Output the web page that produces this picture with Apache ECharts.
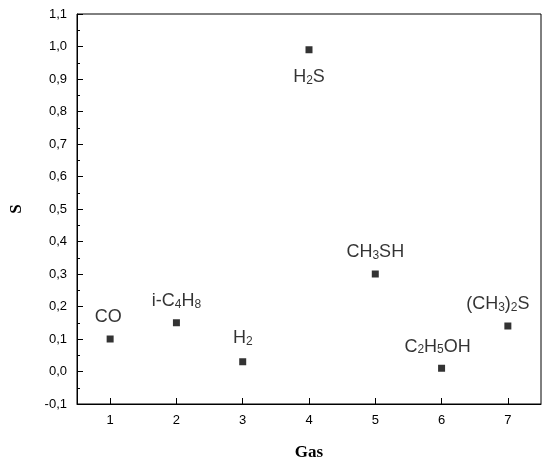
<!DOCTYPE html>
<html lang="en">
<head>
  <meta charset="UTF-8">
  <title>S vs Gas</title>
  <style>
    html, body { margin: 0; padding: 0; width: 100%; height: 100%; background: #fff; }
    .main { width: 550px; height: 468px; }
  </style>
</head>
<body>
<div class="main"></div>
<script src="https://cdn.jsdelivr.net/npm/echarts@6/dist/echarts.min.js"></script>
<script>
var gasIndex = [1, 2, 3, 4, 5, 6, 7];
var sValues = [0.10, 0.15, 0.03, 0.99, 0.30, 0.01, 0.14];
// rich-text labels, {s|..} is a subscript
var gasLabels = ['{m|CO}', '{m|i-C}{s|4}{m|H}{s|8}', '{m|H}{s|2}', '{m|H}{s|2}{m|S}',
  '{m|CH}{s|3}{m|SH}', '{m|C}{s|2}{m|H}{s|5}{m|OH}', '{m|(CH}{s|3}{m|)}{s|2}{m|S}'];
var labelOffsets = [[-2, -4], [0, -4], [0, -6], [0, 4], [0, -4], [-4, -4], [-10, -4]];

var chart = echarts.init(document.querySelector('.main'));

function fmt(v) { return v.toFixed(1).replace('.', ','); }

chart.setOption({
  animation: false,
  grid: { left: 72, right: 9, top: 14, bottom: 64, show: true, borderColor: '#000', borderWidth: 1 },
  xAxis: {
    type: 'value', min: 0.5, max: 7.5,
    name: 'Gas', nameLocation: 'middle', nameGap: 40,
    nameTextStyle: { fontFamily: 'Liberation Serif', fontWeight: 'bold', fontSize: 17, color: '#000' },
    axisLine: { onZero: false, lineStyle: { color: '#000', width: 1 } },
    axisTick: { inside: true, length: 6, lineStyle: { color: '#000' }, customValues: gasIndex },
    axisLabel: { color: '#000', fontFamily: 'Liberation Sans', fontSize: 13, margin: 10,
      customValues: gasIndex },
    splitLine: { show: false }
  },
  yAxis: {
    type: 'value', min: -0.1, max: 1.1, interval: 0.1,
    name: 'S', nameLocation: 'middle', nameGap: 52, nameRotate: 90,
    nameTextStyle: { fontFamily: 'Liberation Serif', fontWeight: 'bold', fontSize: 17, color: '#000' },
    axisLine: { onZero: false, lineStyle: { color: '#000', width: 1 } },
    axisTick: { inside: true, length: 6, lineStyle: { color: '#000' } },
    minorTick: { show: true, splitNumber: 2, length: 3, lineStyle: { color: '#000' } },
    axisLabel: { color: '#000', fontFamily: 'Liberation Sans', fontSize: 13, margin: 10,
      formatter: fmt },
    splitLine: { show: false }
  },
  series: [{
    type: 'scatter',
    symbol: 'rect', symbolSize: 7,
    itemStyle: { color: '#000' },
    data: gasIndex.map(function (x, i) {
      return {
        value: [x, sValues[i]],
        label: {
          show: true,
          position: i === 3 ? 'bottom' : 'top',
          offset: labelOffsets[i],
          formatter: gasLabels[i],
          rich: {
            m: { fontFamily: 'Liberation Sans', fontSize: 18, color: '#000', lineHeight: 24, verticalAlign: 'bottom' },
            s: { fontFamily: 'Liberation Sans', fontSize: 12, color: '#000', lineHeight: 24, verticalAlign: 'bottom', padding: [16, 0, 0, 0] }
          }
        }
      };
    })
  }]
});
</script>
</body>
</html>
